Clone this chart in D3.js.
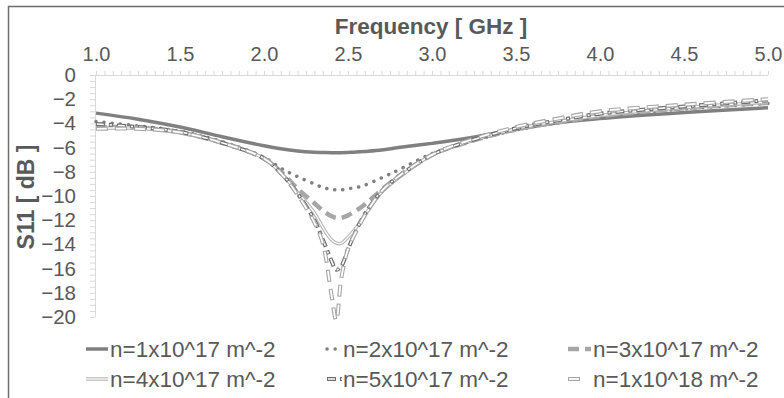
<!DOCTYPE html>
<html>
<head>
<meta charset="utf-8">
<script src="https://cdn.jsdelivr.net/npm/d3@7"></script>
<style>
  html, body { margin: 0; padding: 0; background: #fff; }
  svg { display: block; font-family: "Liberation Sans", Arial, sans-serif; }
</style>
</head>
<body>
<svg id="chart" width="784" height="398"></svg>
<script>
// frequency points (GHz) shared by every series
const freq = [1.0, 1.25, 1.5, 1.75, 2.0, 2.1, 2.2, 2.3, 2.35, 2.4, 2.43, 2.46, 2.5, 2.55, 2.6, 2.7, 2.8, 3.0, 3.2, 3.5, 3.75, 4.0, 4.5, 5.0];

// S11 values (dB)
const n1e17 = [-3.15, -3.65, -4.3, -5.1, -5.85, -6.1, -6.28, -6.38, -6.4, -6.42, -6.42, -6.42, -6.4, -6.37, -6.32, -6.2, -6.0, -5.65, -5.25, -4.5, -3.95, -3.6, -3.1, -2.7];
const n2e17 = [-3.85, -4.2, -4.65, -5.5, -6.8, -7.7, -8.4, -9.0, -9.3, -9.45, -9.5, -9.5, -9.4, -9.3, -9.1, -8.5, -7.85, -6.5, -5.6, -4.55, -3.95, -3.45, -2.8, -2.35];
const n3e17 = [-4.3, -4.35, -4.75, -5.6, -6.9, -8.0, -9.4, -10.6, -11.2, -11.65, -11.8, -11.8, -11.6, -11.2, -10.7, -9.5, -8.4, -6.6, -5.6, -4.5, -3.9, -3.4, -2.75, -2.3];
const n4e17 = [-4.4, -4.4, -4.75, -5.6, -6.9, -8.1, -9.7, -11.4, -12.6, -13.6, -13.9, -13.9, -13.4, -12.6, -11.6, -9.7, -8.5, -6.6, -5.6, -4.45, -3.85, -3.35, -2.7, -2.25];
const n5e17 = [-4.05, -4.3, -4.7, -5.6, -6.9, -8.1, -9.8, -12.0, -13.6, -15.3, -16.1, -15.8, -14.4, -12.8, -11.5, -9.6, -8.4, -6.6, -5.55, -4.4, -3.75, -3.2, -2.6, -2.1];
const n1e18 = [-4.45, -4.45, -4.75, -5.6, -6.9, -8.1, -9.9, -12.2, -13.9, -18.0, -20.3, -16.8, -14.4, -12.9, -11.6, -9.6, -8.4, -6.6, -5.5, -4.3, -3.6, -3.0, -2.45, -2.0];

const seriesNames = ["n=1x10^17 m^-2", "n=2x10^17 m^-2", "n=3x10^17 m^-2", "n=4x10^17 m^-2", "n=5x10^17 m^-2", "n=1x10^18 m^-2"];
const seriesValues = [n1e17, n2e17, n3e17, n4e17, n5e17, n1e18];

const xTicks = [1.0, 1.5, 2.0, 2.5, 3.0, 3.5, 4.0, 4.5, 5.0];
const yTicks = [0, -2, -4, -6, -8, -10, -12, -14, -16, -18, -20];

// line styles: each style is a list of stroke layers drawn on top of each other
const styles = [
  [{ stroke: "#808080", width: 3.5 }],
  [{ stroke: "#808080", width: 3.5, dash: "0.1 8", cap: "round" }],
  [{ stroke: "#a6a6a6", width: 4.5, dash: "11 6" }],
  [{ stroke: "#b4b4b4", width: 3.5 }, { stroke: "#fff", width: 1.3 }],
  [{ stroke: "#6e6e6e", width: 4, dash: "9 4 4 4" }, { stroke: "#fff", width: 1.6, dash: "7 6 2 6", offset: -1 }],
  [{ stroke: "#a6a6a6", width: 4, dash: "12 7" }, { stroke: "#fff", width: 1.8, dash: "10 9", offset: -1 }],
];
// legend sample spans (left, right) relative to the text start
const sampleSpan = [[-24, -2], [-16, -1], [-25, -2], [-24, -2], [-16, -1], [-25, -13]];

const svg = d3.select("#chart");
const W = 784, H = 398;
const plot = { left: 96, right: 768, top: 75, bottom: 317 };

svg.append("rect").attr("width", W).attr("height", H).attr("fill", "#fff");

// outer frame (cropped on the right and bottom)
svg.append("path")
  .attr("d", `M8.5,${H + 2}V6.5H${W + 2}`)
  .attr("fill", "none")
  .attr("stroke", "#6e6e6e")
  .attr("stroke-width", 1.5);

const x = d3.scaleLinear().domain([1, 5]).range([plot.left, plot.right]);
const y = d3.scaleLinear().domain([0, -20]).range([plot.top, plot.bottom]);

// minor tick axes
const xMinor = d3.axisTop(x)
  .tickValues(d3.range(1, 5.001, 0.05))
  .tickSize(4)
  .tickFormat("");
const gxm = svg.append("g").attr("transform", `translate(0,${plot.top})`).call(xMinor);
gxm.select(".domain").attr("d", `M${plot.left - 6},0.5H${plot.right}`);
gxm.selectAll("path, line").attr("stroke", "#d9d9d9");

const yMinor = d3.axisLeft(y)
  .tickValues(d3.range(0, -20.001, -0.5))
  .tickSize(5)
  .tickFormat("");
const gym = svg.append("g").attr("transform", `translate(${plot.left - 1},0)`).call(yMinor);
gym.selectAll("path, line").attr("stroke", "#d9d9d9");
gym.select(".domain").attr("d", `M0.5,${plot.top}V${plot.bottom}`);

// tick labels
const xLab = d3.axisTop(x).tickValues(xTicks).tickSize(0).tickPadding(14).tickFormat(d3.format(".1f"));
const gxl = svg.append("g").attr("transform", `translate(0,${plot.top})`).call(xLab);
gxl.select(".domain").remove();
gxl.selectAll("text")
  .attr("font-size", 20)
  .attr("font-family", "Liberation Sans, Arial, sans-serif")
  .attr("fill", "#595959");

const yLab = d3.axisLeft(y).tickValues(yTicks).tickSize(0).tickPadding(0).tickFormat(d3.format("d"));
const gyl = svg.append("g").attr("transform", `translate(76,0)`).call(yLab);
gyl.select(".domain").remove();
gyl.selectAll("text")
  .attr("font-size", 20.5)
  .attr("font-family", "Liberation Sans, Arial, sans-serif")
  .attr("fill", "#595959");

// axis titles
svg.append("text")
  .attr("x", 431)
  .attr("y", 34)
  .attr("text-anchor", "middle")
  .attr("font-size", 22.5)
  .attr("font-weight", "bold")
  .attr("fill", "#595959")
  .text("Frequency [ GHz ]");

svg.append("text")
  .attr("transform", "translate(34,197) rotate(-90)")
  .attr("text-anchor", "middle")
  .attr("font-size", 23)
  .attr("font-weight", "bold")
  .attr("fill", "#595959")
  .text("S11 [ dB ]");

// series
svg.append("clipPath").attr("id", "clip")
  .append("rect")
  .attr("x", plot.left - 4).attr("y", plot.top - 4)
  .attr("width", plot.right - plot.left + 8)
  .attr("height", plot.bottom - plot.top + 8);

const line = d3.line()
  .x((d, i) => x(freq[i]))
  .y((d) => y(d))
  .curve(d3.curveCatmullRom.alpha(0.5));

const lines = svg.append("g").attr("clip-path", "url(#clip)");
seriesValues.forEach((vals, k) => {
  styles[k].forEach((s) => {
    lines.append("path")
      .datum(vals)
      .attr("d", line)
      .attr("fill", "none")
      .attr("stroke", s.stroke)
      .attr("stroke-width", s.width)
      .attr("stroke-dasharray", s.dash || null)
      .attr("stroke-dashoffset", s.offset || 0)
      .attr("stroke-linecap", s.cap || "butt")
      .attr("stroke-linejoin", "round");
  });
});

// legend
const legendX = [110, 343, 593];
const legendY = [349, 379];
seriesNames.forEach((name, k) => {
  const cx = legendX[k % 3];
  const cy = legendY[Math.floor(k / 3)];
  const g = svg.append("g").attr("transform", `translate(${cx},${cy})`);
  styles[k].forEach((s) => {
    g.append("line")
      .attr("x1", sampleSpan[k][0]).attr("x2", sampleSpan[k][1])
      .attr("y1", 0).attr("y2", 0)
      .attr("stroke", s.stroke)
      .attr("stroke-width", s.width)
      .attr("stroke-dasharray", s.dash || null)
      .attr("stroke-dashoffset", s.offset || 0)
      .attr("stroke-linecap", s.cap || "butt");
  });
  g.append("text")
    .attr("x", 0)
    .attr("y", 8)
    .attr("font-size", 22.5)
    .attr("fill", "#595959")
    .text(name);
});
</script>
</body>
</html>
